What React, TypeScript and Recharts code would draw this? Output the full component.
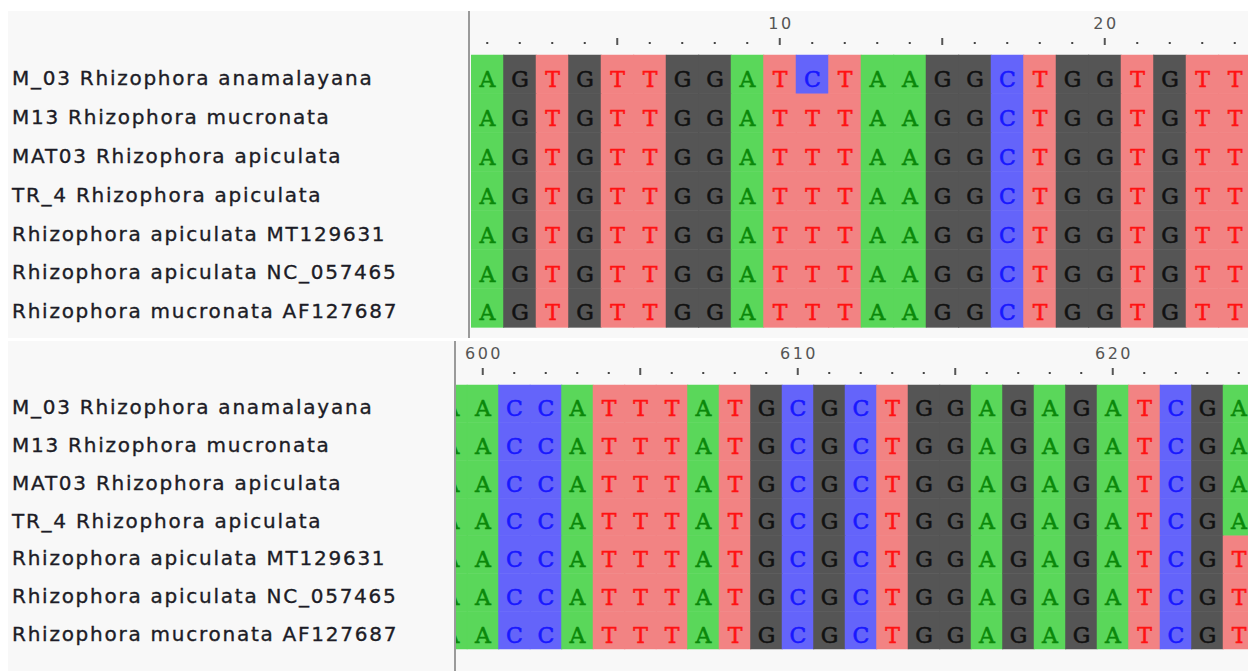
import React from 'react';
import * as RC from 'recharts';
import { BarChart, Bar, XAxis, YAxis } from 'recharts';

const sequenceNames = [
  'M_03 Rhizophora anamalayana',
  'M13 Rhizophora mucronata',
  'MAT03 Rhizophora apiculata',
  'TR_4 Rhizophora apiculata',
  'Rhizophora apiculata MT129631',
  'Rhizophora apiculata NC_057465',
  'Rhizophora mucronata AF127687',
];

const topPositions = [1, 2, 3, 4, 5, 6, 7, 8, 9, 10, 11, 12, 13, 14, 15, 16, 17, 18, 19, 20, 21, 22, 23, 24];
const topSequences = [
  'AGTGTTGGATCTAAGGCTGGTGTT',
  'AGTGTTGGATTTAAGGCTGGTGTT',
  'AGTGTTGGATTTAAGGCTGGTGTT',
  'AGTGTTGGATTTAAGGCTGGTGTT',
  'AGTGTTGGATTTAAGGCTGGTGTT',
  'AGTGTTGGATTTAAGGCTGGTGTT',
  'AGTGTTGGATTTAAGGCTGGTGTT',
];
const topRulerTicks = topPositions;

const bottomPositions = [599, 600, 601, 602, 603, 604, 605, 606, 607, 608, 609, 610, 611, 612, 613, 614, 615, 616, 617, 618, 619, 620, 621, 622, 623, 624];
const bottomSequences = [
  'AACCATTTATGCGCTGGAGAGATCGA',
  'AACCATTTATGCGCTGGAGAGATCGA',
  'AACCATTTATGCGCTGGAGAGATCGA',
  'AACCATTTATGCGCTGGAGAGATCGA',
  'AACCATTTATGCGCTGGAGAGATCGT',
  'AACCATTTATGCGCTGGAGAGATCGT',
  'AACCATTTATGCGCTGGAGAGATCGT',
];
const bottomRulerTicks = [600, 601, 602, 603, 604, 605, 606, 607, 608, 609, 610, 611, 612, 613, 614, 615, 616, 617, 618, 619, 620, 621, 622, 623, 624];

const rowTicks = [0.5, 1.5, 2.5, 3.5, 4.5, 5.5, 6.5];

const baseFill: Record<string, string> = { A: '#5ad75a', G: '#555555', T: '#f28383', C: '#6464fa' };
const baseText: Record<string, string> = { A: '#0a880a', G: '#111111', T: '#ff1212', C: '#1818ff' };

const usePlotAreaSafe: () => any =
  (RC as any).usePlotArea || (RC as any).useOffset || (() => null);

function buildRows(positions: number[], seqs: string[]) {
  return positions.map((pos, i) => {
    const row: any = { pos };
    seqs.forEach((s, r) => {
      row[`r${r}`] = 1;
      row[`b${r}`] = s[i];
    });
    return row;
  });
}

const RulerTick = (props: any) => {
  const { x, y, payload } = props;
  const v = Number(payload.value);
  return (
    <g>
      {v % 10 === 0 && (
        <text x={x} dx={1.2} y={y - 32} textAnchor="middle" dominantBaseline="central"
          fontFamily="DejaVu Sans" fontSize={16} letterSpacing={2.4} fill="#555">{v}</text>
      )}
      {v % 5 === 0 ? (
        <line x1={x} x2={x} y1={y - 17} y2={y - 10} stroke="#555" strokeWidth={2} />
      ) : (
        <rect x={x - 1} y={y - 13} width={2} height={2} fill="#444" />
      )}
    </g>
  );
};

const NameTick = (props: any) => {
  const { y, payload } = props;
  const idx = Math.floor(Number(payload.value));
  return (
    <text x={12} y={y + 3.5} textAnchor="start" dominantBaseline="central"
      fontFamily="DejaVu Sans" fontSize={20} letterSpacing={1.75} fill="#1c1c26"
      stroke="#1c1c26" strokeWidth={0.35}>
      {sequenceNames[idx]}
    </text>
  );
};

const CellShape = (p: any) => {
  const { x, y, width, height, payload, row, panel, index } = p;
  const plot = usePlotAreaSafe();
  if (x == null || y == null || width == null || height == null || !payload) return null;
  const base = payload[`b${row}`];
  const y0 = height < 0 ? y + height : y;
  const h = Math.abs(height);
  let left = x;
  if (plot) {
    const pl = plot.x != null ? plot.x : plot.left;
    if (pl != null && pl > left) left = pl;
  }
  const w = x + width - left;
  if (w <= 0) return null;
  const clipId = `clip-${panel}-${row}-${index}`;
  return (
    <g>
      <defs>
        <clipPath id={clipId}>
          <rect x={left} y={y0} width={w} height={h} />
        </clipPath>
      </defs>
      <rect x={left} y={y0} width={w} height={h} fill={baseFill[base]} stroke={baseFill[base]} strokeWidth={0.5} />
      <text x={x + width / 2} y={y0 + h * 0.63} textAnchor="middle" dominantBaseline="central"
        fontFamily="DejaVu Serif" fontSize={22} fill={baseText[base]} stroke={baseText[base]} strokeWidth={0.55}
        clipPath={`url(#${clipId})`}>{base}</text>
    </g>
  );
};

type PanelProps = {
  id: string;
  positions: number[];
  seqs: string[];
  rulerTicks: number[];
  yAxisWidth: number;
  width: number;
  height: number;
  marginBottom: number;
  padLeft: number;
};

const Panel = ({ id, positions, seqs, rulerTicks, yAxisWidth, width, height, marginBottom, padLeft }: PanelProps) => {
  const data = buildRows(positions, seqs);
  return (
    <BarChart width={width} height={height} data={data} barCategoryGap={0} barGap={0}
      margin={{ top: 0, right: 0, bottom: marginBottom, left: 0 }}>
      <XAxis dataKey="pos" type="category" orientation="top" height={44} axisLine={false} tickLine={false}
        tickSize={0} tickMargin={0} interval={0} ticks={rulerTicks} tick={<RulerTick />}
        padding={{ left: padLeft, right: 0 }} allowDataOverflow />
      <YAxis type="number" domain={[0, 7]} reversed ticks={rowTicks} interval={0} axisLine={false} tickLine={false}
        width={yAxisWidth} tick={<NameTick />} />
      {seqs.map((_, r) => (
        <Bar key={r} dataKey={`r${r}`} stackId="s" isAnimationActive={false}
          shape={<CellShape row={r} panel={id} />} />
      ))}
    </BarChart>
  );
};

export default function App() {
  return (
    <div style={{ position: 'fixed', left: 0, top: 0, width: 1248, height: 671, overflow: 'hidden', background: '#ffffff' }}>
      <div style={{ position: 'absolute', left: 8, top: 11, width: 1240, height: 327, background: '#f8f8f8' }} />
      <div style={{ position: 'absolute', left: 8, top: 341, width: 1240, height: 330, background: '#f8f8f8' }} />
      <div style={{ position: 'absolute', left: 0, top: 11 }}>
        <Panel id="top" positions={topPositions} seqs={topSequences} rulerTicks={topRulerTicks}
          yAxisWidth={471} width={1251} height={327} marginBottom={10.7} padLeft={0} />
      </div>
      <div style={{ position: 'absolute', left: 0, top: 341 }}>
        <Panel id="bottom" positions={bottomPositions} seqs={bottomSequences} rulerTicks={bottomRulerTicks}
          yAxisWidth={456} width={1254.5} height={330} marginBottom={22} padLeft={-20.5} />
      </div>
      <div style={{ position: 'absolute', left: 468, top: 11, width: 2, height: 327, background: '#9a9a9a' }} />
      <div style={{ position: 'absolute', left: 454, top: 341, width: 2, height: 330, background: '#9a9a9a' }} />
    </div>
  );
}
